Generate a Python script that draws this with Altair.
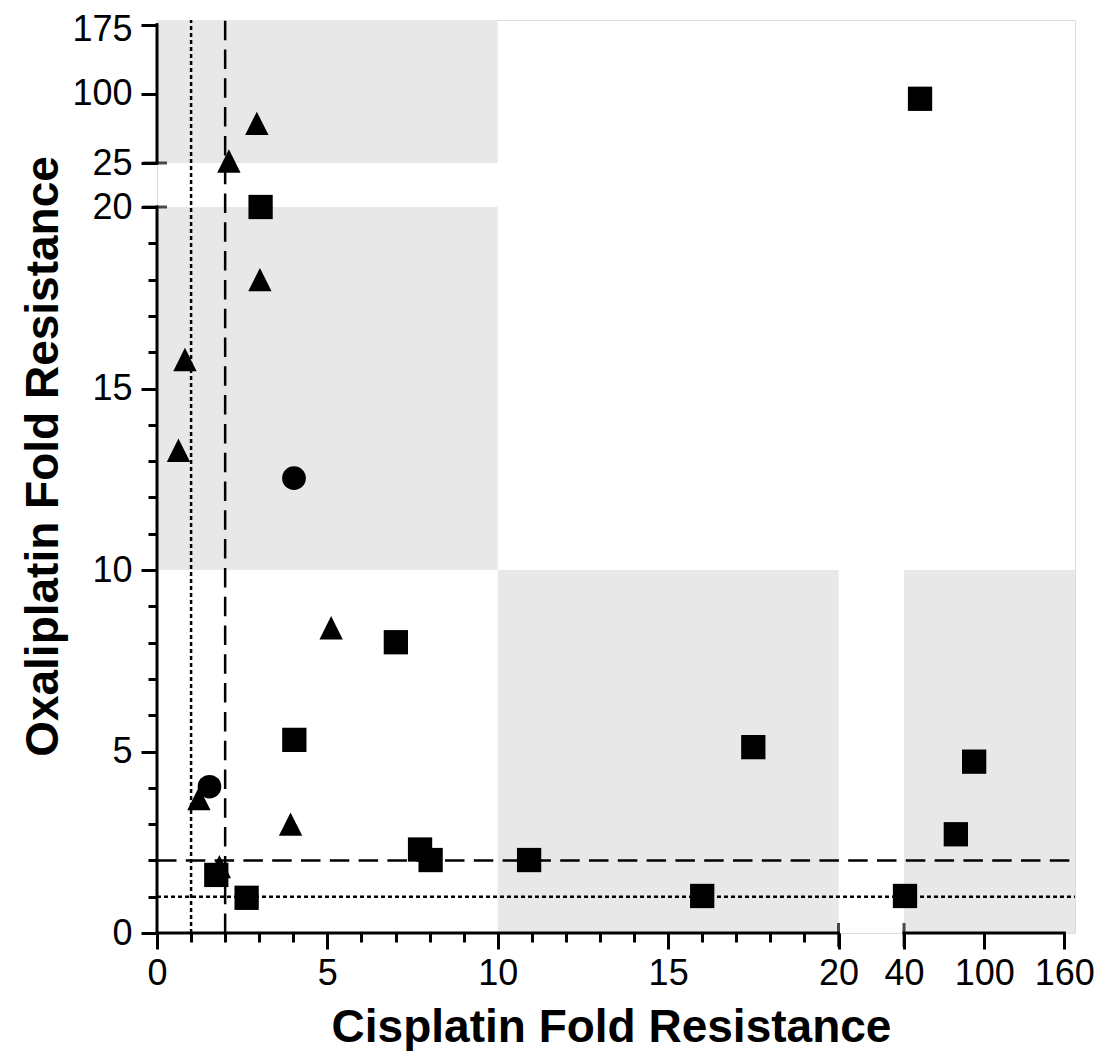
import altair as alt
import pandas as pd

# ---- data ----
sq_x = [52.0, 3.04, 7.01, 4.03, 17.5, 92.5, 78.8, 7.72, 8.03, 10.92, 1.74, 2.63, 16.0, 40.75]
sq_y = [94.6, 20.0, 8.01, 5.32, 5.12, 4.72, 2.72, 2.30, 2.01, 2.01, 1.60, 0.97, 1.02, 1.02]
tri_x = [2.93, 2.11, 3.02, 0.82, 0.63, 5.11, 1.23, 3.92, 1.83]
tri_y = [68.0, 27.2, 18.0, 15.8, 13.3, 8.41, 3.70, 3.00, 1.83]
cir_x = [4.02, 1.54]
cir_y = [12.53, 4.03]

# shaded regions (x, x2, y, y2)
shade_x = [0, 0, 10, 40]
shade_x2 = [10, 10, 20, 168]
shade_y = [25, 10, 0, 0]
shade_y2 = [180, 20, 10, 10]

# broken axes
x_domain = [0, 20, 40, 168]
y_domain = [0, 20, 25, 180]
x_ticks = list(range(0, 21)) + [40, 100, 160]
y_ticks = list(range(0, 21)) + [25, 100, 175]
x_breaks = [20, 40]
y_breaks = [20, 25]

FONT = "Liberation Sans"

xs = alt.Scale(domain=x_domain, range=[0, 681.5, 747, 918], nice=False, zero=False)
ys = alt.Scale(domain=y_domain, range=[913, 187, 143, 0], nice=False, zero=False)

tick_cond = {"condition": {"test": "datum.value % 5 !== 0", "value": 9}, "value": 16}
top_label_offset = {"condition": {"test": "datum.value === 175", "value": 5}, "value": 0}

x_axis = alt.Axis(values=x_ticks, format="d", labelExpr="datum.value % 5 === 0 ? datum.label : ''",
                  tickSize=tick_cond, tickWidth=3, tickColor="black", domain=False, grid=False,
                  labelFontSize=36, labelFont=FONT, labelColor="black", labelPadding=7,
                  labelFlush=False, labelOverlap=False,
                  title="Cisplatin Fold Resistance", titleFont=FONT, titleFontSize=46,
                  titleFontWeight="bold", titleColor="black", titleX=454, titleY=108,
                  titleAlign="center", titleBaseline="alphabetic")
y_axis = alt.Axis(values=y_ticks, format="d", labelExpr="datum.value % 5 === 0 ? datum.label : ''",
                  tickSize=tick_cond, tickWidth=3, tickColor="black", domain=False, grid=False,
                  labelFontSize=36, labelFont=FONT, labelColor="black", labelPadding=9,
                  labelFlush=False, labelOverlap=False, labelOffset=top_label_offset,
                  title="Oxaliplatin Fold Resistance", titleFont=FONT, titleFontSize=46,
                  titleFontWeight="bold", titleColor="black", titleAngle=270, titleX=-100, titleY=436,
                  titleAlign="center", titleBaseline="alphabetic")

X = lambda f="x": alt.X(f, type="quantitative", scale=xs, axis=x_axis)
Y = lambda f="y": alt.Y(f, type="quantitative", scale=ys, axis=y_axis)

shade_df = pd.DataFrame({"x": shade_x, "x2": shade_x2, "y": shade_y, "y2": shade_y2})
shade = alt.Chart(shade_df).mark_rect(color="#e8e8e8").encode(
    x=X(), x2="x2:Q", y=Y(), y2="y2:Q")

# reference lines
vdot = alt.Chart(pd.DataFrame({"x": [1], "y": [0], "y2": [180]})).mark_rule(
    color="black", strokeWidth=2.5, strokeDash=[4, 3]).encode(x=X(), y=Y(), y2="y2:Q")
vdash = alt.Chart(pd.DataFrame({"x": [2], "y": [0], "y2": [180]})).mark_rule(
    color="black", strokeWidth=2.5, strokeDash=[19.5, 9.3]).encode(x=X(), y=Y(), y2="y2:Q")
hdot = alt.Chart(pd.DataFrame({"x": [0], "x2": [168], "y": [1]})).mark_rule(
    color="black", strokeWidth=2.5, strokeDash=[4, 3]).encode(x=X(), x2="x2:Q", y=Y())
hdash = alt.Chart(pd.DataFrame({"x": [0], "x2": [168], "y": [2]})).mark_rule(
    color="black", strokeWidth=2.5, strokeDash=[19.5, 9.3]).encode(x=X(), x2="x2:Q", y=Y())

# axis lines (broken)
ax_df = pd.DataFrame({"x": [0, 40, 0, 0], "x2": [20, 160, 0, 0],
                      "y": [0, 0, 0, 25], "y2": [0, 0, 20, 175]})
axes = alt.Chart(ax_df).mark_rule(color="black", strokeWidth=3, strokeCap="square").encode(
    x=X(), x2="x2:Q", y=Y(), y2="y2:Q")

xb = alt.Chart(pd.DataFrame({"x": x_breaks, "y": [0, 0]})).mark_tick(
    orient="vertical", size=24, thickness=3, color="black", yOffset=2).encode(x=X(), y=Y())
yb = alt.Chart(pd.DataFrame({"x": [0, 0], "y": y_breaks})).mark_tick(
    orient="horizontal", size=24, thickness=3, color="black", xOffset=-2).encode(x=X(), y=Y())

tri = alt.Chart(pd.DataFrame({"x": tri_x, "y": tri_y})).mark_point(
    shape="M0,-1L1,1L-1,1Z", size=545, filled=True, color="black", opacity=1, strokeWidth=0
).encode(x=X(), y=Y())
cir = alt.Chart(pd.DataFrame({"x": cir_x, "y": cir_y})).mark_point(
    shape="circle", size=560, filled=True, color="black", opacity=1, strokeWidth=0
).encode(x=X(), y=Y())
sq = alt.Chart(pd.DataFrame({"x": sq_x, "y": sq_y})).mark_point(
    shape="square", size=590, filled=True, color="black", opacity=1, strokeWidth=0
).encode(x=X(), y=Y())

chart = alt.layer(shade, vdot, vdash, hdot, hdash, axes, xb, yb, tri, cir, sq).properties(
    width=918, height=913,
    padding={"left": 149, "top": 12, "right": 21, "bottom": 118},
    autosize=alt.AutoSizeParams(type="none"),
).configure_view(stroke=None).configure(font=FONT)

chart.save("out.html", embed_options={"renderer": "svg", "actions": False})
